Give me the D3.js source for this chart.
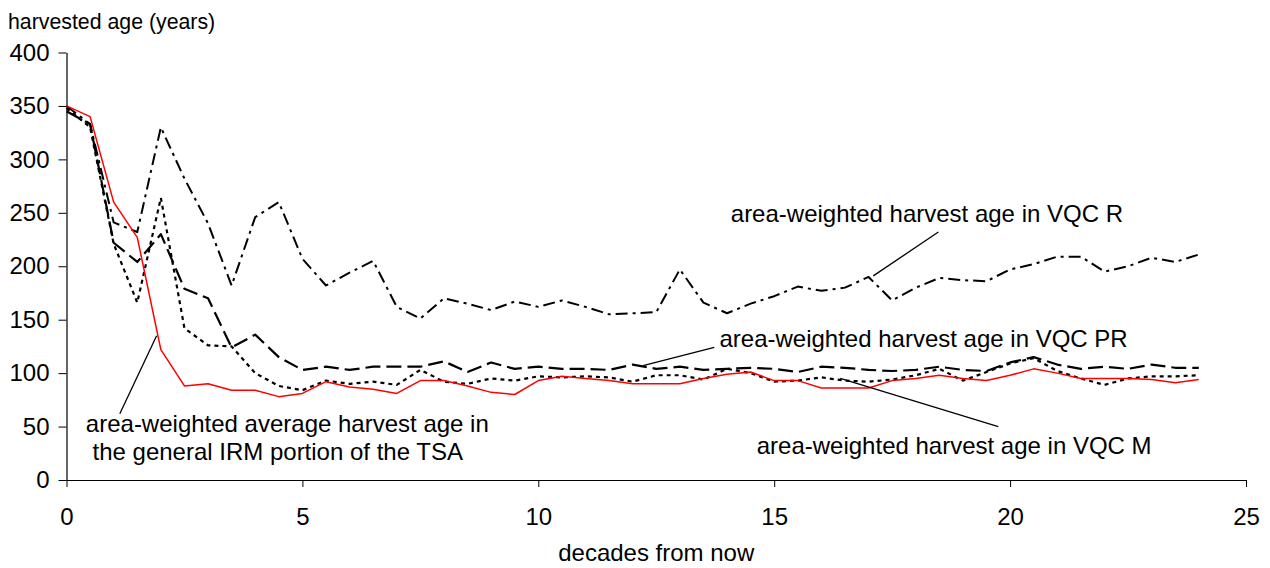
<!DOCTYPE html>
<html>
<head>
<meta charset="utf-8">
<script src="https://cdn.jsdelivr.net/npm/d3@7"></script>
<style>
	body { margin: 0; background: #fff; }
	svg { display: block; font-family: Arial, "Liberation Sans", sans-serif; }
	.axis path, .axis line { stroke: #000; }
</style>
</head>
<body>
<svg id="chart" width="1270" height="568"></svg>
<script>
const decades = [0, 0.5, 1, 1.5, 2, 2.5, 3, 3.5, 4, 4.5, 5, 5.5, 6, 6.5, 7, 7.5, 8, 8.5, 9, 9.5,
	10, 10.5, 11, 11.5, 12, 12.5, 13, 13.5, 14, 14.5, 15, 15.5, 16, 16.5, 17, 17.5, 18, 18.5, 19, 19.5,
	20, 20.5, 21, 21.5, 22, 22.5, 23, 23.5, 24]

const irmAge = [350, 340, 260, 227, 122, 88, 90, 84, 84, 78,
	81, 92, 87, 85, 81, 93, 93, 88, 82, 80,
	93, 97, 95, 93, 90, 90, 90, 95, 99, 101,
	93, 93, 86, 86, 86, 93, 95, 98, 95, 93,
	98, 104, 100, 95, 95, 95, 94, 91, 94]

const vqcR = [350, 333, 241, 232, 330, 282, 240, 182, 246, 260,
	207, 182, 194, 205, 162, 151, 170, 165, 159, 167,
	162, 168, 162, 155, 156, 157, 197, 166, 156, 165,
	172, 181, 177, 180, 190, 168, 180, 189, 187, 186,
	197, 202, 209, 209, 195, 200, 208, 204, 211]

const vqcPR = [345, 333, 222, 204, 230, 179, 170, 124, 136, 115,
	103, 106, 103, 106, 106, 106, 111, 101, 110, 104,
	106, 104, 104, 103, 108, 104, 106, 103, 104, 105,
	104, 101, 106, 105, 103, 102, 103, 106, 103, 102,
	110, 115, 108, 104, 106, 104, 108, 105, 105]

const vqcM = [348, 330, 221, 166, 264, 142, 126, 125, 100, 88,
	84, 93, 90, 92, 89, 103, 92, 90, 95, 93,
	97, 96, 97, 96, 92, 98, 98, 94, 104, 100,
	92, 93, 96, 93, 92, 94, 98, 104, 93, 101,
	109, 114, 102, 95, 89, 95, 97, 97, 98]

const xTicks = [0, 5, 10, 15, 20, 25]
const yTicks = [0, 50, 100, 150, 200, 250, 300, 350, 400]

const series = [
	{ name: "R", values: vqcR, color: "#000", width: 2, dash: "12,5,3,5" },
	{ name: "PR", values: vqcPR, color: "#000", width: 2.2, dash: "15,6" },
	{ name: "M", values: vqcM, color: "#000", width: 2.2, dash: "4,4" },
	{ name: "IRM", values: irmAge, color: "#ff0000", width: 1.5, dash: null }
]

// annotations: text lines, where the text sits, and the leader line (in data units)
const notes = [
	{ lines: ["area-weighted harvest age in VQC R"], x: 14.08, y: 241, from: [18.48, 232], to: [17.1, 191] },
	{ lines: ["area-weighted harvest age in VQC PR"], x: 13.84, y: 124, from: [13.73, 124], to: [12.22, 107] },
	{ lines: ["area-weighted harvest age in VQC M"], x: 14.63, y: 24, from: [16.4, 95], to: [19.75, 50] },
	{ lines: ["area-weighted average harvest age in", " the general IRM portion of the TSA"], x: 0.41, y: 45, from: [1.91, 135], to: [1.13, 62] }
]

const svg = d3.select("#chart")
const margin = { left: 66.5, right: 24, top: 52.5, bottom: 88 }
const W = +svg.attr("width"), H = +svg.attr("height")

const x = d3.scaleLinear().domain([0, 25]).range([margin.left, W - margin.right])
const y = d3.scaleLinear().domain([0, 400]).range([H - margin.bottom, margin.top])

svg.append("g")
	.classed("axis", true)
	.attr("transform", `translate(0,${y(0)})`)
	.call(d3.axisBottom(x).tickValues(xTicks).tickSize(7).tickPadding(21).tickSizeOuter(0))
	.call(g => g.selectAll("text").attr("font-size", 24).attr("fill", "#000").attr("font-family", null))

svg.append("g")
	.classed("axis", true)
	.attr("transform", `translate(${x(0)},0)`)
	.call(d3.axisLeft(y).tickValues(yTicks).tickSize(8).tickPadding(9).tickSizeOuter(0))
	.call(g => g.selectAll("text").attr("font-size", 24).attr("fill", "#000").attr("font-family", null))

svg.selectAll(".axis path").attr("stroke-width", 1.2)

svg.append("text")
	.attr("x", 8).attr("y", 29)
	.attr("font-size", 21.3)
	.text("harvested age (years)")

svg.append("text")
	.attr("x", x(12.5)).attr("y", 561)
	.attr("text-anchor", "middle")
	.attr("font-size", 24)
	.text("decades from now")

const line = d3.line()
	.x((d, i) => x(decades[i]))
	.y(d => y(d))

svg.append("g")
	.selectAll("path")
	.data(series)
	.join("path")
		.attr("d", s => line(s.values))
		.attr("fill", "none")
		.attr("stroke", s => s.color)
		.attr("stroke-width", s => s.width)
		.attr("stroke-dasharray", s => s.dash)
		.attr("stroke-linejoin", "round")

var noteG = svg.append("g").selectAll("g")
	.data(notes)
	.join("g")

noteG.append("line")
	.attr("x1", n => x(n.from[0])).attr("y1", n => y(n.from[1]))
	.attr("x2", n => x(n.to[0])).attr("y2", n => y(n.to[1]))
	.attr("stroke", "#000")
	.attr("stroke-width", 1.3)

noteG.each(function(n) {
	var t = d3.select(this).append("text")
		.attr("font-size", 24)
		.attr("xml:space", "preserve")
		.style("white-space", "pre")
	n.lines.forEach((ln, i) => {
		t.append("tspan")
			.attr("x", x(n.x))
			.attr("y", y(n.y) + i * 27.7)
			.text(ln)
	})
})
</script>
</body>
</html>
